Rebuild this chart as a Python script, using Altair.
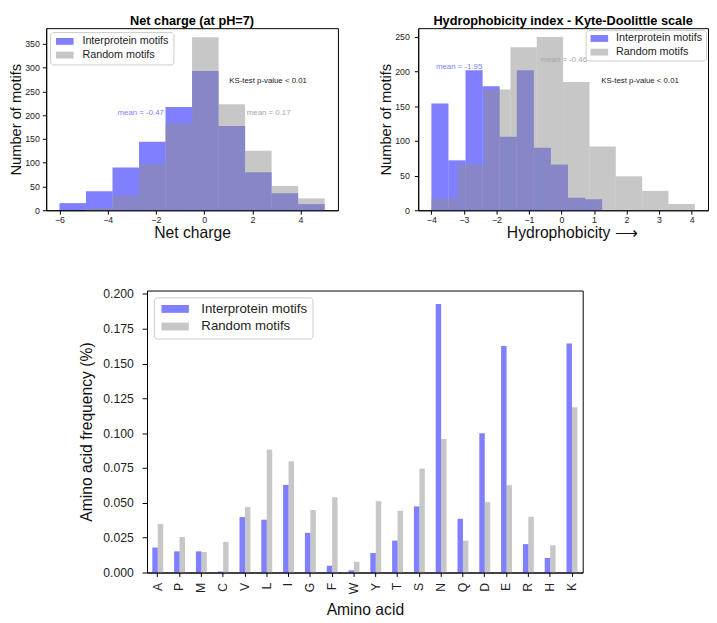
import altair as alt
import pandas as pd

FONT = "Liberation Sans"
SERIES = ["Interprotein motifs", "Random motifs"]
BAR_COLORS = ["#0000ff", "#8f8f8f"]
NOTE_COLORS = ["#8080ff", "#a6a6a6", "#1a1a1a"]

# ---- Net charge histogram ----
net_edges = [-6.0, -4.9, -3.8, -2.7, -1.6, -0.5, 0.6, 1.7, 2.8, 3.9, 5.0]
net_inter = [15, 40, 90, 144, 217, 293, 177, 80, 36, 13]
net_random = [0, 5, 31, 97, 183, 364, 223, 125, 51, 25]
net_xticks = [-6, -4, -2, 0, 2, 4]
net_yticks = [0, 50, 100, 150, 200, 250, 300, 350]
net_note_text = ["mean = -0.47", "mean = 0.17", "KS-test p-value < 0.01"]
net_note_x = [-3.59, 1.77, 1.04]
net_note_y = [205, 205, 272]

# ---- Hydrophobicity histogram ----
hyd_inter_edges = [-4.0, -3.475, -2.95, -2.425, -1.9, -1.375, -0.85, -0.325, 0.2, 0.725, 1.25]
hyd_inter = [154, 72, 202, 179, 106, 202, 90, 66, 18, 16]
hyd_random_edges = [-4.0, -3.19, -2.38, -1.57, -0.76, 0.05, 0.86, 1.67, 2.48, 3.29, 4.1]
hyd_random = [17, 66, 174, 235, 250, 185, 92, 49, 28, 9]
hyd_xticks = [-4, -3, -2, -1, 0, 1, 2, 3, 4]
hyd_yticks = [0, 50, 100, 150, 200, 250]
hyd_note_text = ["mean = -1.95", "mean = -0.46", "KS-test p-value < 0.01"]
hyd_note_x = [-3.86, -0.64, 1.22]
hyd_note_y = [206, 217, 186]

# ---- Amino acid frequencies ----
amino_acids = ["A", "P", "M", "C", "V", "L", "I", "G", "F", "W",
               "Y", "T", "S", "N", "Q", "D", "E", "R", "H", "K"]
aa_inter = [0.0180, 0.0152, 0.0152, 0.0007, 0.0398, 0.0379, 0.0629, 0.0285, 0.0049, 0.0016,
            0.0140, 0.0229, 0.0475, 0.1927, 0.0386, 0.0999, 0.1626, 0.0204, 0.0105, 0.1644]
aa_random = [0.0349, 0.0255, 0.0147, 0.0220, 0.0470, 0.0882, 0.0798, 0.0449, 0.0540, 0.0077,
             0.0512, 0.0444, 0.0746, 0.0959, 0.0229, 0.0505, 0.0627, 0.0400, 0.0196, 0.1186]
aa_yticks = [0.0, 0.025, 0.05, 0.075, 0.1, 0.125, 0.15, 0.175, 0.2]


def make_legend(orient, offset, label_size, sym_size, sym_path, label_offset, row_pad, pad, trail=0):
    return alt.Legend(
        title=None, orient=orient, offset=offset,
        labelFontSize=label_size, labelFont=FONT, labelColor="#222222",
        labelExpr="datum.label + '" + " " * trail + "'",
        symbolType=sym_path, symbolSize=sym_size, symbolOpacity=0.5,
        symbolStrokeWidth=0, labelOffset=label_offset, rowPadding=row_pad,
        strokeColor="#cccccc", fillColor="white", padding=pad, cornerRadius=3,
    )


def make_hist(edges_a, counts_a, edges_b, counts_b, note_text, note_x, note_y,
              xdomain, ydomain, xticks, yticks, title, xtitle, legend,
              width, height, ylabel_pad, title_x=None):
    rows = []
    for s, edges, counts in ((SERIES[0], edges_a, counts_a), (SERIES[1], edges_b, counts_b)):
        for i, c in enumerate(counts):
            rows.append({"series": s, "x0": edges[i], "x1": edges[i + 1], "count": c})
    df = pd.DataFrame(rows)
    notes = pd.DataFrame({"x0": note_x, "count": note_y, "text": note_text, "color": NOTE_COLORS})
    xscale = alt.Scale(domain=xdomain, nice=False, zero=False)
    yscale = alt.Scale(domain=ydomain, nice=False)
    xkw = dict(values=xticks, title=xtitle, titleFontSize=16, titlePadding=0,
               labelFontSize=9, tickSize=4, labelPadding=2)
    if title_x is not None:
        xkw.update(titleX=title_x, titleAlign="left", titleAnchor="start")
    xaxis = alt.Axis(**xkw)
    yaxis = alt.Axis(values=yticks, title="Number of motifs", titleFontSize=15,
                     titlePadding=1, labelFontSize=9, tickSize=4, labelPadding=ylabel_pad)
    bars = alt.Chart(df).mark_bar(opacity=0.5).encode(
        x=alt.X("x0:Q", scale=xscale, axis=xaxis),
        x2="x1:Q",
        y=alt.Y("count:Q", scale=yscale, axis=yaxis, stack=None),
        y2=alt.datum(0),
        color=alt.Color("series:N", scale=alt.Scale(domain=SERIES, range=BAR_COLORS), legend=legend),
    )
    texts = alt.Chart(notes).mark_text(align="left", baseline="middle", fontSize=8, font=FONT).encode(
        x=alt.X("x0:Q", scale=xscale, axis=xaxis),
        y=alt.Y("count:Q", scale=yscale, axis=yaxis),
        text="text:N",
        color=alt.Color("color:N", scale=None),
    )
    return alt.layer(bars, texts).properties(
        width=width, height=height,
        title=alt.Title(title, fontSize=13, fontWeight="bold", font=FONT, offset=0, frame="group"),
    )


small_path = "M-1,-1L4.14,-1L4.14,1L-1,1Z"
big_path = "M-1,-1L6,-1L6,1L-1,1Z"

net_chart = make_hist(
    net_edges, net_inter, net_edges, net_random,
    net_note_text, net_note_x, net_note_y,
    [-6.55, 5.55], [0, 383], net_xticks, net_yticks,
    "Net charge (at pH=7)", "Net charge",
    make_legend("top-left", 4, 11, 49, small_path, 18, 2, 4, trail=2),
    298, 186, 3,
)

hyd_chart = make_hist(
    hyd_inter_edges, hyd_inter, hyd_random_edges, hyd_random,
    hyd_note_text, hyd_note_x, hyd_note_y,
    [-4.405, 4.505], [0, 262.6], hyd_xticks, hyd_yticks,
    "Hydrophobicity index - Kyte-Doolittle scale", "Hydrophobicity      \u27f6",
    make_legend("top-right", 2, 11, 49, small_path, 17, 2, 3),
    296, 186, 5, title_x=90,
)

aa_rows = []
for aa, a, b in zip(amino_acids, aa_inter, aa_random):
    aa_rows.append({"aa": aa, "series": SERIES[0], "value": a})
    aa_rows.append({"aa": aa, "series": SERIES[1], "value": b})
aa_df = pd.DataFrame(aa_rows)

aa_chart = alt.Chart(aa_df).mark_bar(opacity=0.5).encode(
    x=alt.X("aa:N", sort=amino_acids,
            scale=alt.Scale(paddingInner=0.5, paddingOuter=0.243),
            axis=alt.Axis(title="Amino acid", labelAngle=270, labelFontSize=12.5,
                          tickSize=4, labelPadding=6, titleFontSize=16, titlePadding=8)),
    xOffset=alt.XOffset("series:N", sort=SERIES,
                        scale=alt.Scale(paddingInner=0, paddingOuter=0)),
    y=alt.Y("value:Q", scale=alt.Scale(domain=[0, 0.2024], nice=False),
            axis=alt.Axis(values=aa_yticks, format=".3f", title="Amino acid frequency (%)",
                          labelFontSize=12.5, tickSize=5, labelPadding=9,
                          titleFontSize=16, titlePadding=8)),
    color=alt.Color("series:N", scale=alt.Scale(domain=SERIES, range=BAR_COLORS),
                    legend=make_legend("top-left", 7, 13.5, 64, big_path, 30, 3, 5, trail=4)),
).properties(width=445, height=288)

spacer = alt.Chart(pd.DataFrame({"v": [0]})).mark_point(opacity=0).encode(
    x=alt.X("v:Q", axis=None), y=alt.Y("v:Q", axis=None)
).properties(width=33, height=10, view=alt.ViewBackground(strokeOpacity=0))

top = alt.hconcat(net_chart, hyd_chart, spacing=40).resolve_scale(color="independent")
bottom = alt.hconcat(spacer, aa_chart, spacing=0).resolve_scale(color="independent")

chart = alt.vconcat(top, bottom, spacing=46).resolve_scale(color="independent").properties(
    padding={"left": 0, "top": 0, "right": 0, "bottom": 0}
).configure_view(
    stroke="black", strokeWidth=1
).configure_axis(
    grid=False, domainColor="black", tickColor="black", labelColor="#222222",
    titleColor="#111111", labelFont=FONT, titleFont=FONT, titleFontWeight="normal",
).configure_title(
    font=FONT, color="black"
)

chart.save("out.html", embed_options={"renderer": "svg", "actions": False})
